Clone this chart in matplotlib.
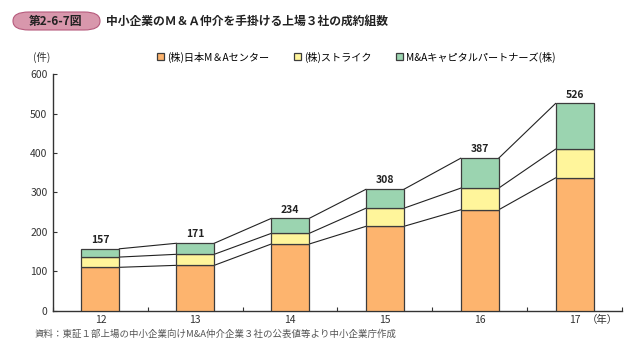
import matplotlib
matplotlib.use("Agg")
import matplotlib.pyplot as plt
import numpy as np
from matplotlib.patches import FancyBboxPatch, Patch

plt.rcParams['font.family'] = ['Noto Sans CJK JP', 'DejaVu Sans']

years = ["12", "13", "14", "15", "16", "17"]
nihon = [110, 115, 169, 214, 256, 337]
strike = [26, 28, 27, 46, 55, 73]
capital = [21, 28, 38, 48, 76, 116]
totals = [157, 171, 234, 308, 387, 526]
series_names = ["(株)日本M＆Aセンター", "(株)ストライク", "M&Aキャピタルパートナーズ(株)"]
colors = ["#FDB46E", "#FFF59B", "#9BD4B0"]
edge = "#3c3c3c"

fig = plt.figure(figsize=(6.34, 3.53), dpi=100)
ax = fig.add_axes([0.0836, 0.120, 0.8974, 0.6695])

x = np.arange(len(years))
w = 0.4
b1 = np.array(nihon)
b2 = b1 + np.array(strike)
b3 = b2 + np.array(capital)
ax.bar(x, nihon, w, color=colors[0], edgecolor=edge, linewidth=0.9, zorder=3)
ax.bar(x, strike, w, bottom=b1, color=colors[1], edgecolor=edge, linewidth=0.9, zorder=3)
ax.bar(x, capital, w, bottom=b2, color=colors[2], edgecolor=edge, linewidth=0.9, zorder=3)

# connector lines between bars
for tops in (b1, b2, b3):
    for i in range(len(x) - 1):
        ax.plot([x[i] + w / 2, x[i + 1] - w / 2], [tops[i], tops[i + 1]],
                color="#222222", linewidth=0.8, zorder=2)

for xi, t in zip(x, totals):
    ax.text(xi, t + 10, str(t), ha="center", va="bottom", fontsize=7.5,
            fontweight="bold", color="#222222")

ax.set_xlim(-0.5, 5.5)
ax.set_ylim(0, 600)
ax.set_yticks(range(0, 601, 100))
ax.tick_params(axis="y", direction="in", length=3, labelsize=7.5, colors="#333333", pad=4)
ax.set_xticks(np.arange(-0.5, 5.6, 1.0))
ax.set_xticklabels([])
ax.tick_params(axis="x", direction="in", length=3, colors="#333333")
for xi, lab in zip(x, years):
    ax.text(xi, -12, lab, ha="center", va="top", fontsize=7.5, color="#333333")
ax.text(x[-1] + 0.13, -12, "（年）", ha="left", va="top", fontsize=7.5, color="#333333")
for s in ("top", "right"):
    ax.spines[s].set_visible(False)
for s in ("left", "bottom"):
    ax.spines[s].set_color("#333333")
    ax.spines[s].set_linewidth(1.0)

fig.text(33 / 634, 1 - 57 / 353, "(件)", ha="left", va="center", fontsize=7.5, color="#333333")

handles = [Patch(facecolor=c, edgecolor=edge, linewidth=0.9) for c in colors]
fig.legend(handles, series_names, loc="center left", bbox_to_anchor=(157 / 634, 1 - 57 / 353),
           ncol=3, frameon=False, fontsize=7.3, handlelength=0.7, handleheight=0.7,
           handletextpad=0.3, columnspacing=2.4, borderaxespad=0, borderpad=0)

# title badge
badge = FancyBboxPatch((13 / 634, 1 - 30 / 353), 87 / 634, 18 / 353,
                       boxstyle="round,pad=0,rounding_size=0.025",
                       transform=fig.transFigure, facecolor="#D897AC",
                       edgecolor="#B65A7C", linewidth=0.8, mutation_aspect=353 / 634 * 1.8)
fig.patches.append(badge)
fig.text(56 / 634, 1 - 21 / 353, "第2-6-7図", ha="center", va="center",
         fontsize=8.5, fontweight="bold", color="#222222")
fig.text(106 / 634, 1 - 21 / 353, "中小企業のＭ＆Ａ仲介を手掛ける上場３社の成約組数",
         ha="left", va="center", fontsize=8.5, fontweight="bold", color="#222222")

fig.text(35 / 634, 1 - 334 / 353, "資料：東証１部上場の中小企業向けM&A仲介企業３社の公表値等より中小企業庁作成",
         ha="left", va="center", fontsize=6.8, color="#555555")

fig.savefig("out.png", dpi=100)
